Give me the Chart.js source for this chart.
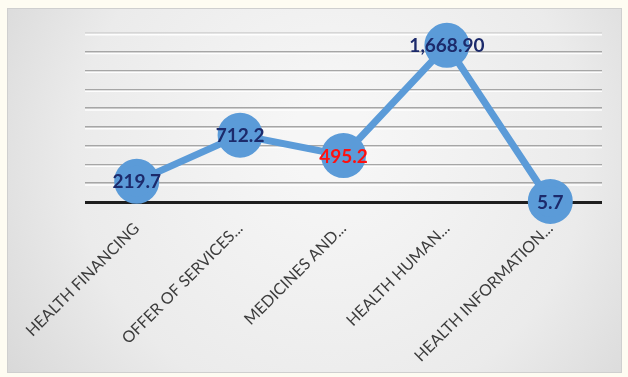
<!DOCTYPE html>
<html>
<head>
<meta charset="utf-8">
<script src="https://cdn.jsdelivr.net/npm/chart.js@4.4.1/dist/chart.umd.min.js"></script>
<style>
  html, body { margin: 0; padding: 0; background: #fefcf2; }
  #wrap { width: 628px; height: 377px; position: relative; }
</style>
</head>
<body>
<div id="wrap"><canvas id="mainChart" width="628" height="377"></canvas></div>
<script>
var categories = ['HEALTH FINANCING', 'OFFER OF SERVICES...', 'MEDICINES AND...', 'HEALTH HUMAN...', 'HEALTH INFORMATION...'];
var values = [219.7, 712.2, 495.2, 1668.9, 5.7];
var decimals = [1, 1, 1, 2, 1];
var labelColors = ['#1c2a6b', '#1c2a6b', '#ff1010', '#1c2a6b', '#1c2a6b'];

// grey panel behind the plot
var panelBg = {
  id: 'panelBg',
  beforeDraw(chart) {
    var c = chart.ctx;
    c.save();
    var g = c.createRadialGradient(330, 140, 40, 330, 170, 430);
    g.addColorStop(0, '#f6f6f6');
    g.addColorStop(0.55, '#ebebeb');
    g.addColorStop(1, '#d2d2d2');
    c.fillStyle = g;
    c.fillRect(7, 8, 615, 365);
    c.strokeStyle = '#cfcfcf';
    c.lineWidth = 1;
    c.strokeRect(7.5, 8.5, 614, 364);
    c.restore();
  },
  // white highlight under each gridline
  beforeDatasetsDraw(chart) {
    var c = chart.ctx, y = chart.scales.y, a = chart.chartArea;
    c.save();
    c.strokeStyle = 'rgba(255,255,255,0.9)';
    c.lineWidth = 1.5;
    y.ticks.forEach(function (t) {
      if (t.value === 0) return;
      var py = y.getPixelForValue(t.value) + 1.8;
      c.beginPath();
      c.moveTo(a.left, py);
      c.lineTo(a.right, py);
      c.stroke();
    });
    c.restore();
  }
};

// value labels centred on each point
var valueLabels = {
  id: 'valueLabels',
  afterDatasetsDraw(chart) {
    var c = chart.ctx;
    var meta = chart.getDatasetMeta(0);
    c.save();
    c.font = 'bold 19px Lato';
    c.textAlign = 'center';
    c.textBaseline = 'middle';
    meta.data.forEach(function (pt, i) {
      var txt = values[i].toLocaleString('en-US', { minimumFractionDigits: decimals[i], maximumFractionDigits: decimals[i] });
      c.fillStyle = labelColors[i];
      c.fillText(txt, pt.x, pt.y + 1);
    });
    c.restore();
  }
};

new Chart(document.getElementById('mainChart').getContext('2d'), {
  type: 'line',
  data: {
    labels: categories,
    datasets: [{
      data: values,
      borderColor: '#5b9bd8',
      backgroundColor: '#5b9bd8',
      pointBackgroundColor: '#5b9bd8',
      pointBorderColor: '#5b9bd8',
      borderWidth: 7,
      pointRadius: 19,
      pointHoverRadius: 19,
      tension: 0,
      clip: false
    }]
  },
  options: {
    responsive: false,
    animation: false,
    events: [],
    layout: { padding: { left: 85, right: 15, top: 33, bottom: 0 } },
    plugins: { legend: { display: false }, tooltip: { enabled: false } },
    scales: {
      x: {
        offset: true,
        grid: { display: false, drawTicks: false },
        border: { display: false },
        afterFit: function (s) { s.height = 175; },
        ticks: {
          minRotation: 45,
          maxRotation: 45,
          padding: 17,
          autoSkip: false,
          color: '#3c3c3c',
          font: { family: 'Lato', size: 16 }
        }
      },
      y: {
        min: 0,
        max: 1800,
        grid: {
          drawTicks: false,
          color: function (ctx) {
            if (ctx.tick.value === 0) return '#1e1e1e';
            if (ctx.tick.value === 1800) return '#d6d6d6';
            return '#a6a6a6';
          },
          lineWidth: function (ctx) { return ctx.tick.value === 0 ? 3 : 1.5; }
        },
        border: { display: false },
        afterFit: function (s) { s.width = 0; },
        ticks: { display: false, stepSize: 200 }
      }
    }
  },
  plugins: [panelBg, valueLabels]
});
</script>
</body>
</html>
